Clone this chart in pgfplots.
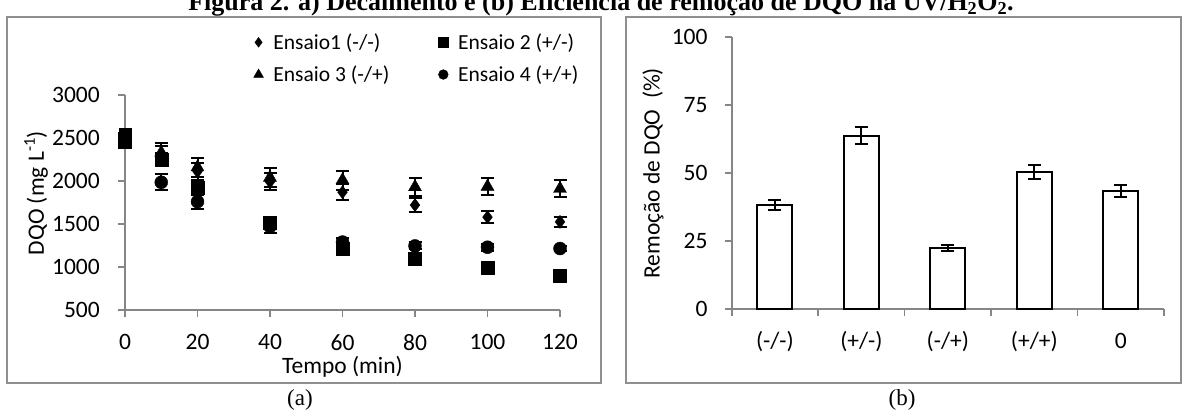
\documentclass[border=0pt]{standalone}
\usepackage{pgfplots}
\pgfplotsset{compat=1.18}
\usepackage{fontspec}
\setmainfont{Carlito}
\newfontfamily\tnr{Liberation Serif}
\definecolor{axgray}{HTML}{868686}
\definecolor{boxgray}{HTML}{8F8F8F}
\pgfplotsset{
  mystyle/.style={
    scale only axis,
    axis lines=left,
    axis line style={draw=axgray, line width=1.6pt, -},
    tick style={draw=axgray, line width=1.6pt},
    tick align=outside,
    major tick length=7pt,
    minor tick length=7pt,
    tick label style={font=\fontsize{23.5}{28}\selectfont, inner sep=0pt},
    label style={font=\fontsize{23.5}{28}\selectfont},
    /pgf/number format/assume math mode=true,
    /pgf/number format/1000 sep={},
    clip=false,
  },
  legimg/.style={legend image code/.code={\draw[##1, every mark/.append style={scale=0.75}] plot coordinates {(0pt,0pt)};}},
  ebar/.style={error bars/.cd, y dir=both, y explicit,
    error bar style={line width=2pt, black},
    error mark options={rotate=90, mark size=6.5pt, line width=2pt, black}},
}
\begin{document}
\begin{tikzpicture}[x=1pt,y=1pt]
\begin{axis}[mystyle,
  at={(125pt,101pt)}, anchor=south west,
  width=435pt, height=215pt,
  xmin=0, xmax=120, ymin=500, ymax=3000,
  xtick={0,20,...,120}, ytick={500,1000,...,3000},
  xticklabel style={anchor=north, yshift=-17pt},
  yticklabel style={anchor=east, xshift=-18pt},
  xlabel={Tempo (min)}, ylabel={DQO (mg L\textsuperscript{-1})},
  xlabel style={at={(axis description cs:0.5,-0.265)}, anchor=center},
  ylabel style={at={(axis description cs:-0.2046,0.544)}, anchor=center},
  legend columns=2,
  legend cell align=left,
  legend style={draw=none, fill=none, at={(axis description cs:0.2954,1.286)}, anchor=north west,
    inner sep=0pt, font=\fontsize{21.5}{26}\selectfont, row sep=15pt, nodes={inner sep=0pt},
    /tikz/every odd column/.append style={column sep=10pt},
    /tikz/every even column/.append style={column sep=49pt}},
]
\addplot[only marks, mark=diamond*, mark size=6.5pt, black, legimg, ebar] coordinates {
 (0,2480) +- (0,100) (10,2300) +- (0,110) (20,2110) +- (0,100) (40,1990) +- (0,100)
 (60,1870) +- (0,90) (80,1720) +- (0,80) (100,1580) +- (0,70) (120,1525) +- (0,60)};
\addlegendentry{Ensaio1 (-/-)}
\addplot[only marks, mark=square*, mark size=6.5pt, black, legimg, ebar] coordinates {
 (0,2490) +- (0,60) (10,2250) +- (0,80) (20,1920) +- (0,60) (40,1510) +- (0,40)
 (60,1210) +- (0,40) (80,1100) +- (0,30) (100,990) +- (0,30) (120,900) +- (0,30)};
\addlegendentry{Ensaio 2 (+/-)}
\addplot[only marks, mark=triangle*, mark size=7.5pt, black, legimg, ebar] coordinates {
 (0,2500) +- (0,110) (10,2330) +- (0,110) (20,2160) +- (0,110) (40,2040) +- (0,110)
 (60,2010) +- (0,110) (80,1930) +- (0,100) (100,1935) +- (0,100) (120,1910) +- (0,100)};
\addlegendentry{Ensaio 3 (-/+)}
\addplot[only marks, mark=*, mark size=6.5pt, black, legimg, ebar] coordinates {
 (0,2490) +- (0,80) (10,1985) +- (0,95) (20,1760) +- (0,80) (40,1470) +- (0,70)
 (60,1290) +- (0,50) (80,1245) +- (0,40) (100,1230) +- (0,40) (120,1215) +- (0,30)};
\addlegendentry{Ensaio 4 (+/+)}
\end{axis}

\begin{axis}[mystyle,
  at={(731.7pt,101.7pt)}, anchor=south west,
  width=432.3pt, height=272pt,
  xmin=-0.5, xmax=4.5, ymin=0, ymax=100,
  ytick={0,25,50,75,100},
  xtick={0,...,4}, xticklabels={(-/-),(+/-),(-/+),(+/+),0},
  minor xtick={-0.5,0.5,...,4.5},
  major x tick style={draw=none},
  xticklabel style={anchor=center, text height=17.6pt, text depth=5.9pt, yshift=-26pt},
  yticklabel style={anchor=east, xshift=-17pt},
  ylabel={Remoção de DQO~~(\%)},
  ylabel style={at={(axis description cs:-0.182,0.5)}, anchor=center},
]
\addplot[ybar, bar width=35pt, fill=white, draw=black, line width=2pt, ebar] coordinates {
 (0,38.3) +- (0,1.9) (1,63.8) +- (0,3.2) (2,22.6) +- (0,1.2) (3,50.6) +- (0,2.6) (4,43.4) +- (0,2.2)};
\end{axis}

\draw[boxgray, line width=1.6pt] (7,28) rectangle (601,394);
\draw[boxgray, line width=1.6pt] (626,28) rectangle (1181,394);
\node[font=\tnr\fontsize{23}{27}\selectfont] at (300,11) {(a)};
\node[font=\tnr\fontsize{23}{27}\selectfont] at (902,11) {(b)};
\node[font=\tnr\bfseries\fontsize{26}{30}\selectfont, anchor=base] at (601,400) {Figura 2. a) Decaimento e (b) Eficiência de remoção de DQO na UV/H\textsubscript{2}O\textsubscript{2}.};
\pgfresetboundingbox
\useasboundingbox (0,0) rectangle (1183,411);
\end{tikzpicture}
\end{document}
